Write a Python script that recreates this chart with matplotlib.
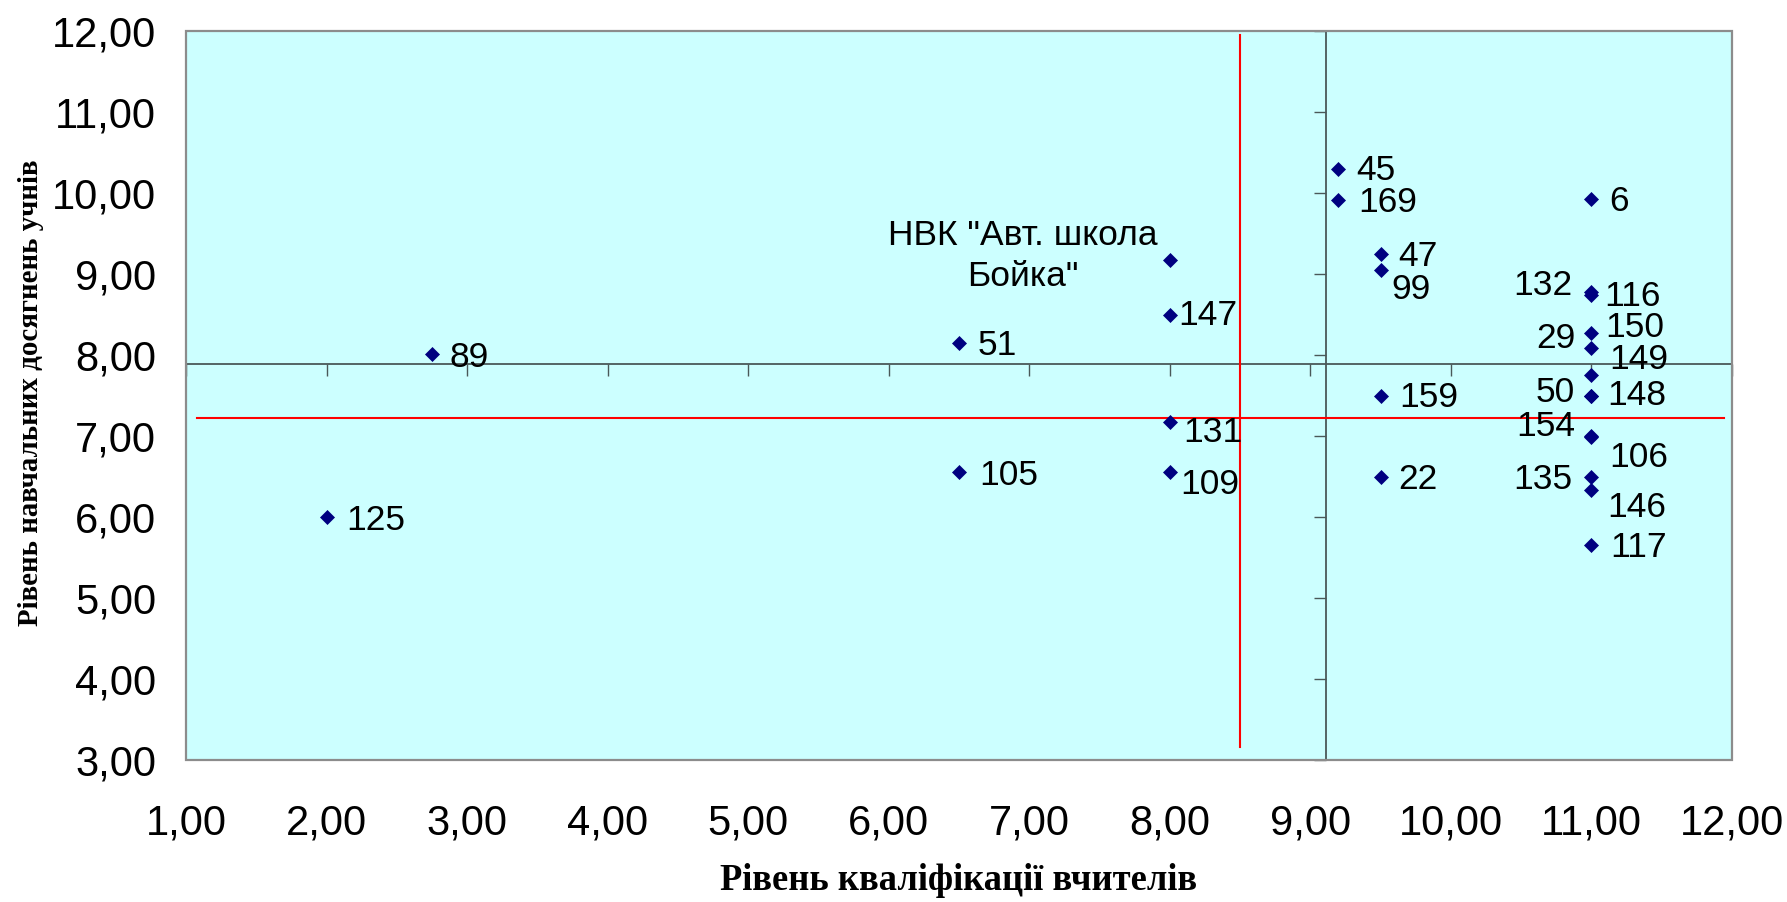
import matplotlib
matplotlib.use("Agg")
import matplotlib.pyplot as plt
from matplotlib.ticker import FuncFormatter
from matplotlib.patches import Rectangle

# ---------------- data ----------------
school_ids = ["125", "89", "51", "105", "НВК \"Авт. школа\nБойка\"", "147", "131", "109",
              "45", "169", "47", "99", "159", "22",
              "6", "132", "116", "150", "29", "149", "148", "50", "154", "106",
              "135", "146", "117"]
teacher_level = [2.00, 2.75, 6.50, 6.50, 8.00, 8.00, 8.00, 8.00,
                 9.20, 9.20, 9.50, 9.50, 9.50, 9.50,
                 11.00, 11.00, 11.00, 11.00, 11.00, 11.00, 11.00, 11.00, 11.00, 11.00,
                 11.00, 11.00, 11.00]
student_level = [6.00, 8.01, 8.15, 6.55, 9.17, 8.50, 7.17, 6.55,
                 10.30, 9.91, 9.25, 9.05, 7.50, 6.49,
                 9.92, 8.78, 8.74, 8.27, 8.09, 7.75, 7.50, 7.50, 7.00, 6.99,
                 6.49, 6.33, 5.66]

# red reference lines (average levels)
vline_x = [8.50, 8.50]
vline_y = [3.16, 11.95]
hline_x = [1.08, 11.94]
hline_y = [7.22, 7.22]

# axis crossing point
cross_x = 9.11
cross_y = 7.885

x_ticks = [1, 2, 3, 4, 5, 6, 7, 8, 9, 10, 11, 12]
y_ticks = [3, 4, 5, 6, 7, 8, 9, 10, 11, 12]

x_title = "Рівень кваліфікації вчителів"
y_title = "Рівень навчальних досягнень учнів"

# label placement (offset in pixels, horizontal alignment)
label_style = {
    "125": (20, 0, "left"), "89": (18, 0, "left"), "51": (19, 0, "left"),
    "105": (20, 0, "left"), "147": (8, 2, "left"), "131": (13, -7, "left"),
    "109": (10, -9, "left"), "45": (18, 1, "left"), "169": (20, 1, "left"),
    "47": (18, 0, "left"), "99": (11, -17, "left"), "159": (19, 1, "left"),
    "22": (18, 1, "left"), "6": (18, 1, "left"), "132": (-19, 9, "right"),
    "116": (13, 2, "left"), "150": (14, 9, "left"), "29": (-16, 12, "right"),
    "149": (18, 19, "left"), "148": (16, 3, "left"), "50": (-17, 6, "right"),
    "154": (-16, 13, "right"), "106": (18, -18, "left"), "135": (-19, 1, "right"),
    "146": (16, -14, "left"), "117": (19, 0, "left"),
}
special_offset = (-147, 4)

# ---------------- figure ----------------
W, H = 1787, 902
fig = plt.figure(figsize=(W / 100, H / 100), dpi=100)
L, R, T, B = 186, 1732, 31, 760
pos = [L / W, 1 - B / H, (R - L) / W, (B - T) / H]
ax = fig.add_axes(pos)
ax.set_xlim(1, 12)
ax.set_ylim(3, 12)
ax.set_facecolor("#CCFFFF")

axis_color = "#4a5858"
for s in ["top", "right"]:
    ax.spines[s].set_visible(False)
ax.spines["left"].set_position(("data", cross_x))
ax.spines["bottom"].set_position(("data", cross_y))
for s in ["left", "bottom"]:
    ax.spines[s].set_color(axis_color)
    ax.spines[s].set_linewidth(1.3)
ax.tick_params(direction="out", length=8.6, width=1.0, color=axis_color,
               labelleft=False, labelbottom=False)
ax.set_xticks(x_ticks)
ax.set_yticks(y_ticks)

frame = Rectangle((0, 0), 1, 1, transform=ax.transAxes, fill=False,
                  edgecolor="#8c8c8c", linewidth=1.6, clip_on=False, zorder=6)
ax.add_patch(frame)

ax.plot(vline_x, vline_y, color="#FF0000", linewidth=1.5, zorder=3)
ax.plot(hline_x, hline_y, color="#FF0000", linewidth=1.5, zorder=3)

ax.plot(teacher_level, student_level, linestyle="none", marker="D",
        markersize=7.5, color="#000080", markeredgewidth=0.5, zorder=5)

lab_font = dict(family=["Liberation Sans", "DejaVu Sans"], fontsize=25.5, color="black")
for name, xv, yv in zip(school_ids, teacher_level, student_level):
    if name in label_style:
        dx, dy, ha = label_style[name]
        ax.annotate(name, (xv, yv), xytext=(dx, dy - 3), textcoords="offset pixels",
                    ha=ha, va="center", zorder=7, **lab_font)
    else:
        ax.annotate(name, (xv, yv), xytext=special_offset, textcoords="offset pixels",
                    ha="center", va="center", multialignment="center",
                    linespacing=1.3, zorder=7, **lab_font)

# tick labels on an overlay axes at the plot edges
ax2 = fig.add_axes(pos, sharex=ax, sharey=ax, frameon=False)
ax2.patch.set_visible(False)
ax2.set_xticks(x_ticks)
ax2.set_yticks(y_ticks)
fmt = FuncFormatter(lambda v, p: f"{v:.2f}".replace(".", ","))
ax2.xaxis.set_major_formatter(fmt)
ax2.yaxis.set_major_formatter(fmt)
ax2.tick_params(length=0, labelsize=30)
ax2.tick_params(axis="x", pad=31)
ax2.tick_params(axis="y", pad=21.6)
for t in ax2.get_xticklabels() + ax2.get_yticklabels():
    t.set_family(["Liberation Sans", "DejaVu Sans"])

title_bold = dict(family=["Liberation Serif", "DejaVu Serif"], fontweight="bold")
fig.text(959 / W, 1 - 881 / H, x_title, ha="center", va="center", fontsize=26.3, **title_bold)
fig.text(31 / W, 1 - 393 / H, y_title, ha="center", va="center", rotation=90,
         fontsize=20.8, **title_bold)

fig.savefig("out.png", dpi=100, facecolor="white")
